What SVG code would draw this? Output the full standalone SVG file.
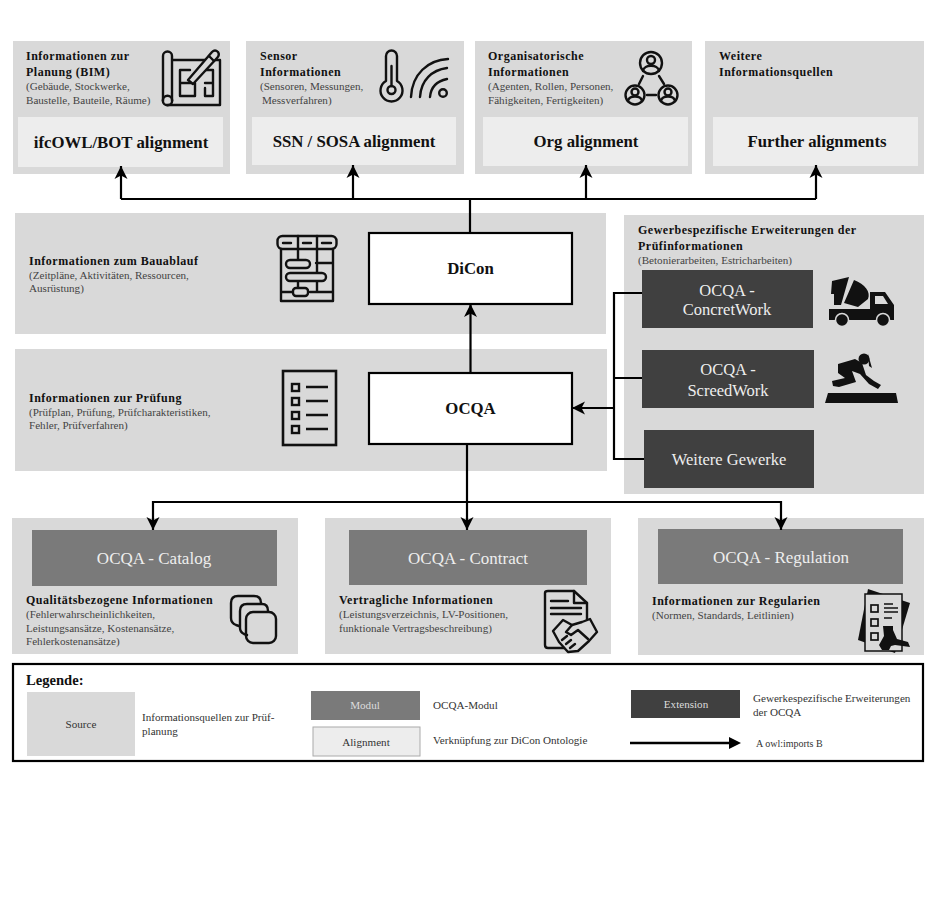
<svg xmlns="http://www.w3.org/2000/svg" width="932" height="900" viewBox="0 0 932 900">
<style>
text{font-family:"Liberation Serif","Times New Roman",serif;fill:#333}
.h{font-size:12px;font-weight:700;fill:#111;letter-spacing:.5px}
.d{font-size:11.1px;fill:#444}
.src{fill:#d9d9d9}
.ali{fill:#ededed}
.mod{fill:#7a7a7a}
.ext{fill:#404040}
.box{fill:#fff;stroke:#000;stroke-width:2.2}
.at{font-size:16.8px;font-weight:700;fill:#111;text-anchor:middle}
.mt{font-size:17px;fill:#eee;text-anchor:middle}
.c{fill:none;stroke:#000;stroke-width:2.2}
.i{fill:none;stroke:#111;stroke-width:2.4;stroke-linejoin:round;stroke-linecap:round}
.f{fill:#111}
.l{font-size:11.1px;fill:#333}
</style>
<defs>
<marker id="a" markerUnits="userSpaceOnUse" markerWidth="16" markerHeight="16" refX="13" refY="8" orient="auto"><path d="M0 1.500L13 8L0 14.500L3.500 8Z" fill="#000"/></marker>
</defs>
<rect width="932" height="900" fill="#fff"/>

<g id="source-bim">
<rect class="src" x="13" y="41" width="217" height="133"/>
<rect class="ali" x="18" y="117" width="205" height="50"/>
<text class="h" x="26" y="60">Informationen zur</text>
<text class="h" x="26" y="76">Planung (BIM)</text>
<text class="d" x="26" y="90">(Gebäude, Stockwerke,</text>
<text class="d" x="26" y="104">Baustelle, Bauteile, Räume)</text>
<text class="at" x="121" y="148">ifcOWL/BOT alignment</text>
<path class="i" d="M172 60H220V105H167M172 56V101M163 101V56a4.500 4.500 0 0 1 9 0"/>
<circle class="i" cx="167.500" cy="100.500" r="4.700"/>
<path class="i" d="M180 96V70H190M180 83H195V96H180M205 70H213V96H205V88M205 83H213"/>
<path d="M188 80L212 52Q215 49 218 52Q220 55 217 58L193 84Z" fill="#d9d9d9" stroke="#111" stroke-width="2.400" stroke-linejoin="round"/>
<path class="i" d="M209 56L214 61"/>
</g>
<g id="source-sensor">
<rect class="src" x="246" y="41" width="218" height="133"/>
<rect class="ali" x="252" y="117" width="204" height="48"/>
<text class="h" x="260" y="60">Sensor</text>
<text class="h" x="260" y="76">Informationen</text>
<text class="d" x="260" y="90">(Sensoren, Messungen,</text>
<text class="d" x="262" y="104">Messverfahren)</text>
<text class="at" x="354" y="147">SSN / SOSA alignment</text>
<path class="i" d="M386 81V56a5.500 5.500 0 0 1 11 0V81a11 11 0 1 1 -11 0Z"/>
<circle class="i" cx="391.500" cy="90" r="4"/>
<path class="i" d="M391.500 86V66"/>
<circle class="i" cx="443" cy="93" r="3.800"/>
<path class="i" d="M430 97C431 86 437 81 447 79M420 97C421 80 432 70 447 68M411 97C412 74 428 60 448 59"/>
</g>
<g id="source-org">
<rect class="src" x="475" y="41" width="217" height="133"/>
<rect class="ali" x="483" y="117" width="205" height="49"/>
<text class="h" x="488" y="60">Organisatorische</text>
<text class="h" x="488" y="76">Informationen</text>
<text class="d" x="488" y="90">(Agenten, Rollen, Personen,</text>
<text class="d" x="488" y="104">Fähigkeiten, Fertigkeiten)</text>
<text class="at" x="586" y="147">Org alignment</text>
<g class="i">
<circle cx="651" cy="63" r="11"/><circle cx="651" cy="60" r="4"/><path d="M643 71C644 64 658 64 659 71"/>
<circle cx="635" cy="95" r="9.500"/><circle cx="635" cy="92" r="3.500"/><path d="M628 101C629 95 641 95 642 101"/>
<circle cx="668" cy="95" r="9.500"/><circle cx="668" cy="92" r="3.500"/><path d="M661 101C662 95 674 95 675 101"/>
<path d="M643 76L639 84M659 76L664 84M647 95H656"/>
</g>
</g>
<g id="source-further">
<rect class="src" x="705" y="41" width="219" height="133"/>
<rect class="ali" x="713" y="117" width="205" height="49"/>
<text class="h" x="719" y="60">Weitere</text>
<text class="h" x="719" y="76">Informationsquellen</text>
<text class="at" x="817" y="147">Further alignments</text>
</g>

<g id="band-bauablauf">
<rect class="src" x="15" y="213" width="591" height="121"/>
<text class="h" x="29" y="265">Informationen zum Bauablauf</text>
<text class="d" x="29" y="279">(Zeitpläne, Aktivitäten, Ressourcen,</text>
<text class="d" x="29" y="292">Ausrüstung)</text>
<g class="i">
<rect x="277.500" y="236" width="59" height="13" rx="5"/>
<path d="M298 236V249M317 236V249M283 243H291M303 243H311M322 243H331"/>
<path d="M281 249V301H333V249M281 292H293M310 292H333M317 249V292M298 249V263M298 275V287M316 263H333"/>
<rect x="286" y="260" width="24" height="8" rx="4" fill="#d9d9d9"/>
<rect x="286" y="273" width="40" height="8" rx="4" fill="#d9d9d9"/>
<rect x="293" y="288" width="15" height="8" rx="3" fill="#d9d9d9"/>
</g>
</g>
<g id="band-pruefung">
<rect class="src" x="15" y="349" width="592" height="122"/>
<text class="h" x="29" y="402">Informationen zur Prüfung</text>
<text class="d" x="29" y="416">(Prüfplan, Prüfung, Prüfcharakteristiken,</text>
<text class="d" x="29" y="429">Fehler, Prüfverfahren)</text>
<rect x="283" y="371" width="53" height="74" fill="none" stroke="#111" stroke-width="2.6"/>
<g fill="none" stroke="#111" stroke-width="2.400">
<rect x="292" y="384" width="7" height="7"/><rect x="292" y="398" width="7" height="7"/><rect x="292" y="412" width="7" height="7"/><rect x="292" y="426" width="7" height="7"/>
<path d="M306 387H328M306 401H328M306 415H328M306 429H328"/>
</g>
</g>
<g id="dicon"><rect class="box" x="369" y="233" width="203" height="71"/><text class="at" x="470.500" y="274">DiCon</text></g>
<g id="ocqa"><rect class="box" x="369" y="373" width="203" height="71"/><text class="at" x="470.500" y="414">OCQA</text></g>

<g id="panel-extensions">
<rect class="src" x="624" y="215" width="300" height="279"/>
<text class="h" x="638" y="234">Gewerbespezifische Erweiterungen der</text>
<text class="h" x="638" y="250">Prüfinformationen</text>
<text class="d" x="638" y="264">(Betonierarbeiten, Estricharbeiten)</text>
</g>
<g id="ext-concret">
<rect class="ext" x="642" y="270" width="171" height="58"/>
<text class="mt" x="727" y="296" style="font-size:16.500px">OCQA -</text>
<text class="mt" x="727" y="315" style="font-size:16.500px">ConcretWork</text>
<path class="f" d="M832 281L849 277L841 305H834V294H831ZM854 280C865 284 871 292 868 299L858 307L844 303ZM829 309H870V292H885L894 305V320H829Z"/>
<path d="M875 296H883L888 304H875Z" fill="#d9d9d9"/>
<circle cx="842" cy="320" r="6.500" fill="#111" stroke="#d9d9d9" stroke-width="1.500"/><circle cx="883" cy="320" r="6.500" fill="#111" stroke="#d9d9d9" stroke-width="1.500"/>
</g>
<g id="ext-screed">
<rect class="ext" x="642" y="350" width="172" height="58"/>
<text class="mt" x="728" y="375" style="font-size:16.500px">OCQA -</text>
<text class="mt" x="728" y="396" style="font-size:16.500px">ScreedWork</text>
<path class="f" d="M825 403L828 393H896L898 403Z"/>
<circle cx="864" cy="359" r="5.500" fill="#111"/>
<path d="M868 354L872 368L869 366Z" fill="#111"/>
<path d="M838 364L855 359L862 363L866 375L874 381L881 385L878 389L869 384L860 374L852 371L856 382L839 387L833 386L832 381L845 378L838 373Z" fill="#111"/>
</g>
<g id="ext-weitere">
<rect class="ext" x="644" y="430" width="170" height="58"/>
<text class="mt" x="729" y="465" style="font-size:16.500px">Weitere Gewerke</text>
</g>

<g id="mod-catalog">
<rect class="src" x="12" y="518" width="286" height="136"/>
<rect class="mod" x="32" y="530" width="245" height="56"/>
<text class="mt" x="154" y="564">OCQA - Catalog</text>
<text class="h" x="26" y="604">Qualitätsbezogene Informationen</text>
<text class="d" x="26" y="618">(Fehlerwahrscheinlichkeiten,</text>
<text class="d" x="26" y="632">Leistungsansätze, Kostenansätze,</text>
<text class="d" x="26" y="645">Fehlerkostenansätze)</text>
<g class="i" stroke-width="2.6">
<path d="M239 626L236 625Q231 623 231 618V603Q231 596 238 596H254Q261 596 261 603"/>
<path d="M247 635L244 634Q240 632 240 628V611Q240 604 247 604H262Q268 604 268 611"/>
<rect x="246" y="612" width="30" height="31" rx="7"/>
</g>
</g>
<g id="mod-contract">
<rect class="src" x="325" y="518" width="286" height="136"/>
<rect class="mod" x="349" y="530" width="238" height="55"/>
<text class="mt" x="468" y="564">OCQA - Contract</text>
<text class="h" x="339" y="604">Vertragliche Informationen</text>
<text class="d" x="339" y="618">(Leistungsverzeichnis, LV-Positionen,</text>
<text class="d" x="339" y="632">funktionale Vertragsbeschreibung)</text>
<g class="i" stroke-width="1.800">
<path d="M564 648H548Q545 648 545 645V593Q545 591 548 591H574L587 603V622"/>
<path d="M574 591V603H587M551 601H568M551 608H581M551 614H581"/>
<path d="M553 631L563 620L572 625L582 622L590 619L597 632L589 641L578 651L568 652L559 642Z" fill="#d9d9d9"/>
<path d="M572 625L566 632L571 635L578 630L588 639M562 640L567 636M566 644L571 640M570 648L575 644"/>
</g>
</g>
<g id="mod-regulation">
<rect class="src" x="638" y="518" width="286" height="137"/>
<rect class="mod" x="658" y="529" width="245" height="55"/>
<text class="mt" x="781" y="563">OCQA - Regulation</text>
<text class="h" x="652" y="605">Informationen zur Regularien</text>
<text class="d" x="652" y="619">(Normen, Standards, Leitlinien)</text>
<path class="f" d="M868 589L910 603L895 653L858 640Z"/>
<rect x="865" y="594" width="37" height="57" fill="#d9d9d9" stroke="#111" stroke-width="1.500"/>
<g fill="none" stroke="#111" stroke-width="1.700">
<rect x="871" y="605" width="7" height="7"/><rect x="871" y="619" width="7" height="7"/><rect x="871" y="633" width="7" height="7"/>
<path d="M884 604H893M884 608H898M884 612H898M884 618H892"/>
</g>
<path d="M883 626H893V630L897 639L908 642L910 647L895 645L891 646L889 650H882L879 645L884 636Z" fill="#111"/>
</g>

<g id="connectors">
<path class="c" d="M470 233V199M121 199H816"/>
<path class="c" marker-end="url(#a)" d="M121 199V166"/>
<path class="c" marker-end="url(#a)" d="M353 199V165"/>
<path class="c" marker-end="url(#a)" d="M586 199V165"/>
<path class="c" marker-end="url(#a)" d="M816 199V165"/>
<path class="c" marker-end="url(#a)" d="M470.500 373V304"/>
<path class="c" d="M642 293H614V459H644M614 378H642"/>
<path class="c" marker-end="url(#a)" d="M614 408H572"/>
<path class="c" marker-end="url(#a)" d="M467 444V530"/>
<path class="c" marker-end="url(#a)" d="M467 502H153V530"/>
<path class="c" marker-end="url(#a)" d="M467 502H781V530"/>
</g>

<g id="legend">
<rect x="13" y="664" width="910" height="97" fill="#fff" stroke="#000" stroke-width="2.200"/>
<text x="26" y="685" style="font-size:14.600px;font-weight:700;fill:#111">Legende:</text>
<rect class="src" x="27" y="692" width="108" height="64"/>
<text class="l" x="81" y="728" text-anchor="middle">Source</text>
<text class="l" x="142" y="721">Informationsquellen zur Prüf-</text>
<text class="l" x="142" y="735">planung</text>
<rect class="mod" x="311" y="691" width="109" height="29"/>
<text class="l" x="365" y="709" text-anchor="middle" style="fill:#ddd">Modul</text>
<text class="l" x="433" y="709">OCQA-Modul</text>
<rect class="ali" x="313" y="727" width="107" height="29" stroke="#aaa"/>
<text class="l" x="366" y="746" text-anchor="middle">Alignment</text>
<text class="l" x="433" y="744">Verknüpfung zur DiCon Ontologie</text>
<rect class="ext" x="631" y="690" width="109" height="28"/>
<text class="l" x="686" y="708" text-anchor="middle" style="fill:#ddd">Extension</text>
<text class="l" x="753" y="702">Gewerkespezifische Erweiterungen</text>
<text class="l" x="753" y="716">der OCQA</text>
<path d="M630 743H730" stroke="#000" stroke-width="2.400"/>
<path d="M729 737L741 743L729 749Z" fill="#000"/>
<text x="756" y="747" style="font-size:10px;fill:#333">A owl:imports B</text>
</g>
</svg>
